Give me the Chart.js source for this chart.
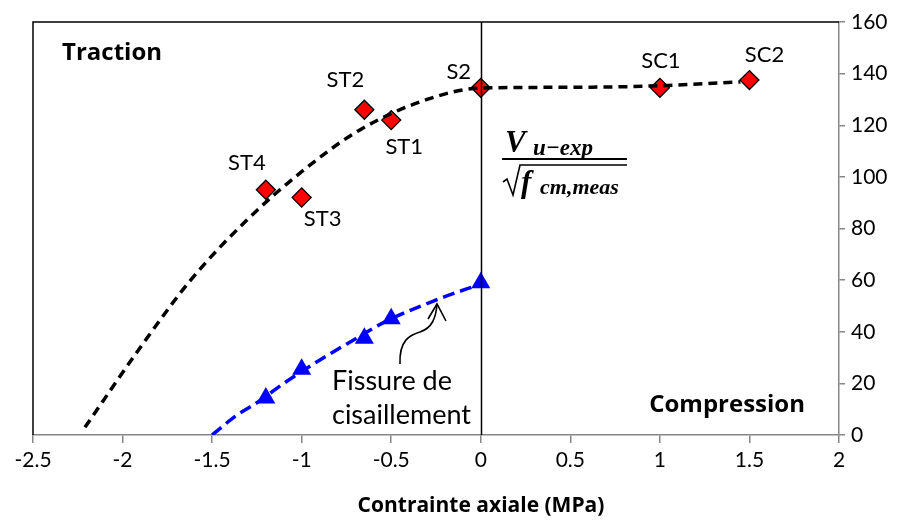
<!DOCTYPE html>
<html>
<head>
<meta charset="utf-8">
<script src="https://cdn.jsdelivr.net/npm/chart.js@4.4.1/dist/chart.umd.min.js"></script>
<style>
  html, body { margin: 0; padding: 0; background: #fff; }
  canvas { display: block; }
</style>
</head>
<body>
<canvas id="c" width="909" height="521"></canvas>
<script>
// ---- data ----
const xTickValues = [-2.5, -2, -1.5, -1, -0.5, 0, 0.5, 1, 1.5, 2];
const xTickLabels = ['-2.5', '-2', '-1.5', '-1', '-0.5', '0', '0.5', '1', '1.5', '2'];
const yTickValues = [0, 20, 40, 60, 80, 100, 120, 140, 160];
const yTickLabels = ['0', '20', '40', '60', '80', '100', '120', '140', '160'];

const specimenNames = ['ST4', 'ST3', 'ST2', 'ST1', 'S2', 'SC1', 'SC2'];
const specimenStress = [-1.2, -1.0, -0.65, -0.5, 0, 1.0, 1.5];
const ultimateShear = [95, 92, 126, 122, 134.5, 134.5, 137.5];

const crackStress = [-1.2, -1.0, -0.65, -0.5, 0];
const crackShear = [14.3, 25.5, 37.5, 45, 59];

const ultimateTrendX = [-2.21, -1.9, -1.62, -1.31, -1.0, -0.68, -0.3, 0, 0.5, 1.0, 1.45];
const ultimateTrendY = [3, 34, 60, 83, 102, 118, 130, 134.4, 134.7, 135.3, 136.8];

const crackTrendX = [-1.5, -1.36, -1.25, -1.1, -0.9, -0.71, -0.53, -0.25, 0];
const crackTrendY = [0, 7.8, 12.5, 20, 29, 36.8, 44, 52.3, 58.5];

// label offsets (pixels) relative to each specimen marker
const labelOffsets = [[-19, -27], [21, 21], [-19, -30], [13, 27], [-22, -16], [1, -27], [15, -25]];

const toXY = (xs, ys) => xs.map((x, i) => ({ x: x, y: ys[i] }));

const FONT = 'Lato, "Open Sans", sans-serif';
const BOLD = '"Open Sans", Lato, sans-serif';

const decor = {
  id: 'decor',
  afterDatasetsDraw(chart) {
    const ctx = chart.ctx;
    const a = chart.chartArea;
    const xs = chart.scales.x, ys = chart.scales.y;
    ctx.save();
    // black top and left frame
    ctx.strokeStyle = '#000';
    ctx.lineWidth = 1.5;
    ctx.beginPath();
    ctx.moveTo(a.left, a.bottom);
    ctx.lineTo(a.left, a.top);
    ctx.lineTo(a.right, a.top);
    ctx.stroke();
    // vertical line at zero stress
    const x0 = Math.round(xs.getPixelForValue(0)) + 0.5;
    ctx.beginPath();
    ctx.moveTo(x0, a.top);
    ctx.lineTo(x0, a.bottom);
    ctx.stroke();

    // specimen labels
    ctx.fillStyle = '#000';
    ctx.font = '22px ' + FONT;
    ctx.textAlign = 'center';
    ctx.textBaseline = 'middle';
    specimenNames.forEach((n, i) => {
      const px = xs.getPixelForValue(specimenStress[i]) + labelOffsets[i][0];
      const py = ys.getPixelForValue(ultimateShear[i]) + labelOffsets[i][1];
      ctx.fillText(n, px, py);
    });

    // region labels
    ctx.font = 'bold 24px ' + BOLD;
    ctx.textAlign = 'left';
    ctx.fillText('Traction', a.left + 29, a.top + 31);
    ctx.textAlign = 'right';
    ctx.fillText('Compression', a.right - 34, a.bottom - 30);

    // annotation text
    ctx.font = '27px ' + FONT;
    ctx.textAlign = 'left';
    ctx.fillText('Fissure de', 332, 381);
    ctx.fillText('cisaillement', 332, 415);

    // curved arrow to crack trend
    ctx.strokeStyle = '#000';
    ctx.lineWidth = 1.6;
    ctx.beginPath();
    ctx.moveTo(400, 364);
    ctx.bezierCurveTo(399, 340, 410, 335, 420, 332);
    ctx.bezierCurveTo(432, 328, 436, 318, 437, 304);
    ctx.stroke();
    ctx.beginPath();
    ctx.moveTo(428, 319);
    ctx.lineTo(437, 304);
    ctx.lineTo(446, 321);
    ctx.stroke();

    // formula V_{u-exp} / sqrt(f_{cm,meas})
    const serif = '"Liberation Serif", "DejaVu Serif", serif';
    ctx.textAlign = 'left';
    ctx.textBaseline = 'alphabetic';
    ctx.font = 'italic bold 31px ' + serif;
    ctx.fillText('V', 505, 152);
    ctx.font = 'italic bold 23px ' + serif;
    ctx.fillText('u\u2212exp', 533, 155);
    ctx.lineWidth = 2.2;
    ctx.beginPath();
    ctx.moveTo(502, 159);
    ctx.lineTo(627, 159);
    ctx.stroke();
    // radical sign
    ctx.lineWidth = 1.6;
    ctx.beginPath();
    ctx.moveTo(503, 182);
    ctx.lineTo(507, 179);
    ctx.lineTo(513, 195);
    ctx.lineTo(520, 165);
    ctx.lineTo(627, 165);
    ctx.stroke();
    ctx.font = 'italic bold 31px ' + serif;
    ctx.fillText('f', 521, 192);
    ctx.font = 'italic bold 22px ' + serif;
    ctx.fillText('cm,meas', 540, 194);

    // x axis title
    ctx.font = 'bold 21px ' + BOLD;
    ctx.textAlign = 'center';
    ctx.textBaseline = 'middle';
    ctx.fillText('Contrainte axiale (MPa)', 481, 506);
    ctx.restore();
  }
};

new Chart(document.getElementById('c'), {
  type: 'scatter',
  data: {
    datasets: [
      {
        data: toXY(ultimateTrendX, ultimateTrendY),
        showLine: true, borderColor: '#000', borderWidth: 3.5,
        borderDash: [9, 6], pointRadius: 0, cubicInterpolationMode: 'monotone'
      },
      {
        data: toXY(crackTrendX, crackTrendY),
        showLine: true, borderColor: '#0000FF', borderWidth: 3.5,
        borderDash: [12, 6], pointRadius: 0, cubicInterpolationMode: 'monotone'
      },
      {
        data: toXY(specimenStress, ultimateShear),
        pointStyle: 'rectRot', pointRadius: 9.5, backgroundColor: '#FF0000',
        borderColor: '#000', borderWidth: 1.3
      },
      {
        data: toXY(crackStress, crackShear),
        pointStyle: 'triangle', pointRadius: 11, backgroundColor: '#0000FF',
        borderColor: '#0000FF', borderWidth: 0
      }
    ]
  },
  options: {
    responsive: false,
    animation: false,
    events: [],
    layout: { padding: { left: 33, top: 22, right: 0, bottom: 0 } },
    plugins: { legend: { display: false }, tooltip: { enabled: false } },
    scales: {
      x: {
        type: 'linear', position: 'bottom', min: -2.5, max: 2,
        afterBuildTicks: s => { s.ticks = xTickValues.map(v => ({ value: v })); },
        ticks: {
          font: { family: FONT, size: 21 }, color: '#000', padding: 5,
          maxRotation: 0, autoSkip: false,
          callback: (v, i) => xTickLabels[i]
        },
        grid: { drawOnChartArea: false, tickLength: 8, color: '#868686', lineWidth: 1.5 },
        border: { color: '#868686', width: 1.5 },
        afterFit: s => { s.height = 86; }
      },
      y: {
        type: 'linear', position: 'right', min: 0, max: 160,
        afterBuildTicks: s => { s.ticks = yTickValues.map(v => ({ value: v })); },
        ticks: {
          font: { family: FONT, size: 21 }, color: '#000', padding: 6,
          autoSkip: false,
          callback: (v, i) => yTickLabels[i]
        },
        grid: { drawOnChartArea: false, tickLength: 6, color: '#868686', lineWidth: 1.5 },
        border: { color: '#868686', width: 1.5 },
        afterFit: s => { s.width = 70; }
      }
    }
  },
  plugins: [decor]
});
</script>
</body>
</html>
